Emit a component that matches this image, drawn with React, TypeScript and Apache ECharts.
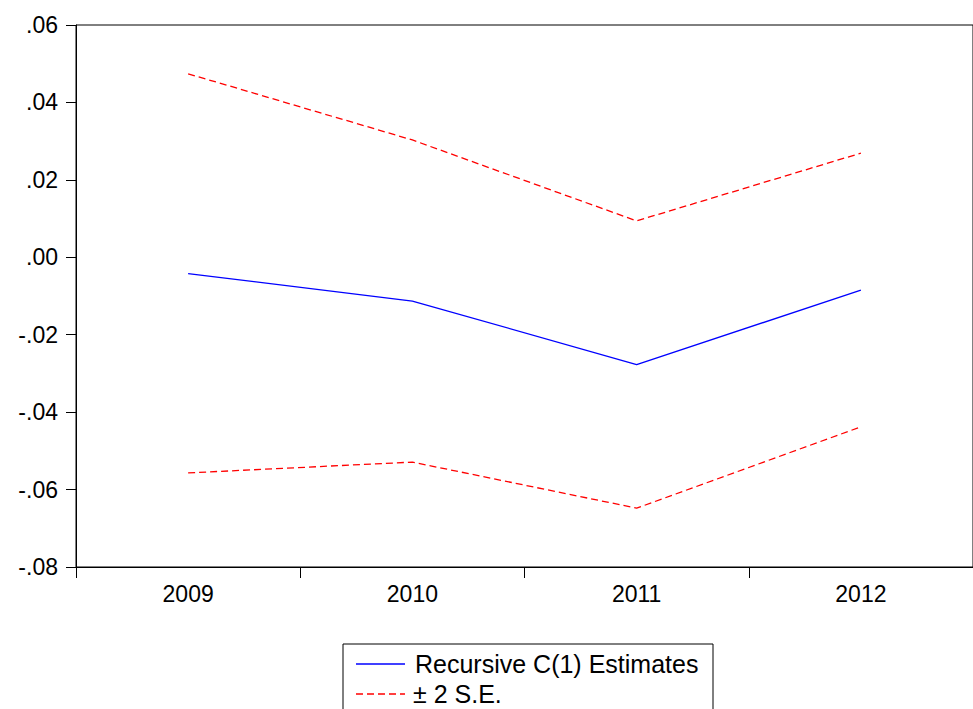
import React, { useEffect, useRef } from "react";
import * as echarts from "echarts";

const years = ["2009", "2010", "2011", "2012"];
const estimates = [-0.0042, -0.0113, -0.0277, -0.0085];
const upperBand = [0.0474, 0.0303, 0.0094, 0.0269];
const lowerBand = [-0.0557, -0.0529, -0.0648, -0.0438];
const yTickLabels = ["-.08", "-.06", "-.04", "-.02", ".00", ".02", ".04", ".06"];
const legendNames = ["Recursive C(1) Estimates", "± 2 S.E."];
const yMin = -0.08;
const yMax = 0.06;
const yStep = 0.02;

const FONT = 'Arial, "Liberation Sans", sans-serif';
const BLUE = "#0000ff";
const RED = "#ff0000";
const DASH = [7, 4];

export default function App() {
  const ref = useRef<HTMLDivElement>(null);
  useEffect(() => {
    document.body.style.margin = "0";
    if (!ref.current) return;
    const chart = echarts.init(ref.current, null, { renderer: "svg" });
    chart.setOption({
      animation: false,
      backgroundColor: "#ffffff",
      grid: {
        left: 76,
        top: 25,
        width: 903,
        height: 542,
        show: true,
        borderColor: "#000000",
        borderWidth: 1,
        containLabel: false,
      },
      xAxis: {
        type: "category",
        data: years,
        boundaryGap: true,
        axisLine: { show: true, onZero: false, lineStyle: { color: "#000000", width: 1 } },
        axisTick: { show: true, length: 11, lineStyle: { color: "#000000" } },
        axisLabel: { color: "#000000", fontSize: 23, fontFamily: FONT, margin: 15 },
        splitLine: { show: false },
      },
      yAxis: {
        type: "value",
        min: yMin,
        max: yMax,
        interval: yStep,
        axisLine: { show: true, lineStyle: { color: "#000000", width: 1 } },
        axisTick: { show: true, length: 10, lineStyle: { color: "#000000" } },
        axisLabel: {
          color: "#000000",
          fontSize: 23,
          fontFamily: FONT,
          margin: 18,
          formatter: (v: number) => yTickLabels[Math.round((v - yMin) / yStep)] ?? "",
        },
        splitLine: { show: false },
      },
      graphic: [
        {
          type: "rect",
          shape: { x: 343, y: 644, width: 370, height: 90 },
          style: { fill: "#ffffff", stroke: "#000000", lineWidth: 1 },
        },
        {
          type: "line",
          shape: { x1: 356, y1: 664, x2: 405, y2: 664 },
          style: { stroke: BLUE, lineWidth: 1.3 },
        },
        {
          type: "line",
          shape: { x1: 356, y1: 694, x2: 405, y2: 694 },
          style: { stroke: RED, lineWidth: 1.3, lineDash: DASH },
        },
        {
          type: "text",
          x: 415,
          y: 664,
          style: {
            text: legendNames[0],
            fill: "#000000",
            fontSize: 25,
            fontFamily: FONT,
            verticalAlign: "middle",
            align: "left",
          },
        },
        {
          type: "text",
          x: 413,
          y: 694,
          style: {
            text: legendNames[1],
            fill: "#000000",
            fontSize: 25,
            fontFamily: FONT,
            verticalAlign: "middle",
            align: "left",
          },
        },
      ],
      series: [
        {
          name: legendNames[0],
          type: "line",
          data: estimates,
          symbol: "none",
          lineStyle: { color: BLUE, width: 1.3 },
          itemStyle: { color: BLUE },
        },
        {
          name: legendNames[1],
          type: "line",
          data: upperBand,
          symbol: "none",
          lineStyle: { color: RED, width: 1.3, type: DASH },
          itemStyle: { color: RED },
        },
        {
          name: legendNames[1],
          type: "line",
          data: lowerBand,
          symbol: "none",
          lineStyle: { color: RED, width: 1.3, type: DASH },
          itemStyle: { color: RED },
        },
      ],
    });
    return () => chart.dispose();
  }, []);
  return <div ref={ref} style={{ width: 973, height: 709 }} />;
}
